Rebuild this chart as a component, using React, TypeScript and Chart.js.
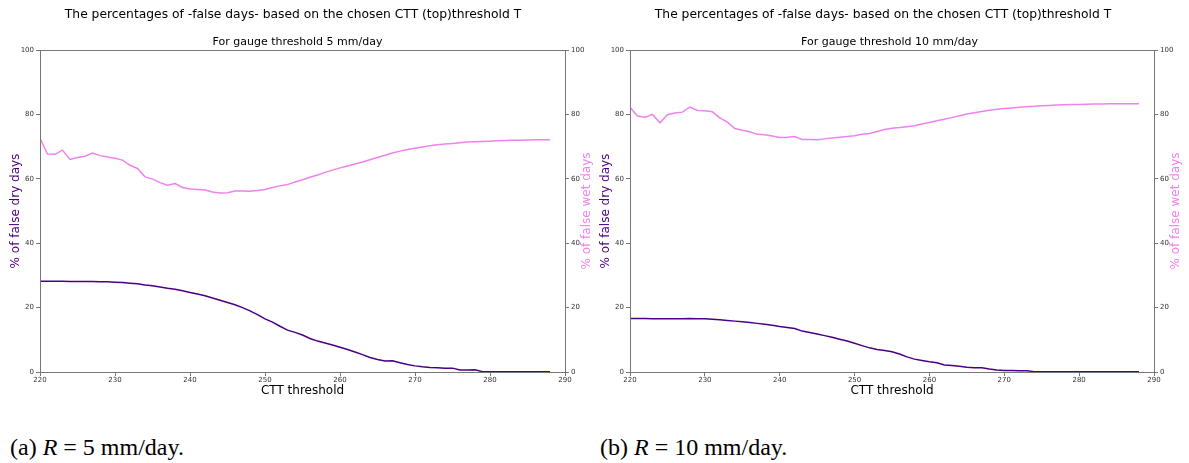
import React, { useEffect, useRef } from "react";
import { Chart, registerables } from "chart.js";

Chart.register(...registerables);

const CTT = [
  220, 221, 222, 223, 224, 225, 226, 227, 228, 229,
  230, 231, 232, 233, 234, 235, 236, 237, 238, 239,
  240, 241, 242, 243, 244, 245, 246, 247, 248, 249,
  250, 251, 252, 253, 254, 255, 256, 257, 258, 259,
  260, 261, 262, 263, 264, 265, 266, 267, 268, 269,
  270, 271, 272, 273, 274, 275, 276, 277, 278, 279,
  280, 281, 282, 283, 284, 285, 286, 287, 288,
];

const X_TICKS = [220, 230, 240, 250, 260, 270, 280, 290];
const Y_TICKS = [0, 20, 40, 60, 80, 100];

// R = 5 mm/day
const DRY_5 = [
  28.2, 28.2, 28.2, 28.2, 28.1, 28.1, 28.1, 28.1, 28.0, 28.0,
  27.9, 27.8, 27.6, 27.4, 27.0, 26.8, 26.4, 26.0, 25.7, 25.2,
  24.7, 24.2, 23.7, 23.0, 22.3, 21.6, 20.9, 20.0, 19.0, 17.8,
  16.5, 15.5, 14.2, 13.0, 12.3, 11.5, 10.4, 9.6, 9.0, 8.4,
  7.7, 7.0, 6.2, 5.4, 4.5, 3.9, 3.4, 3.5, 2.9, 2.3,
  1.9, 1.6, 1.4, 1.3, 1.2, 1.2, 0.6, 0.6, 0.7, 0.1,
  0.1, 0.1, 0.1, 0.1, 0.1, 0.1, 0.1, 0.1, 0.1,
];
const WET_5 = [
  72.6, 67.7, 67.6, 68.9, 66.0, 66.6, 67.0, 68.0, 67.2, 66.8,
  66.4, 65.8, 64.2, 63.2, 60.6, 59.9, 58.8, 58.0, 58.5, 57.3,
  56.8, 56.7, 56.5, 55.9, 55.6, 55.7, 56.2, 56.2, 56.1, 56.4,
  56.7, 57.3, 57.8, 58.2, 59.0, 59.7, 60.5, 61.2, 62.0, 62.7,
  63.4, 64.0, 64.6, 65.2, 65.9, 66.6, 67.3, 68.0, 68.6, 69.1,
  69.5, 69.9, 70.3, 70.6, 70.8, 71.0, 71.2, 71.4, 71.5, 71.6,
  71.7, 71.8, 71.9, 71.95, 72.0, 72.05, 72.1, 72.1, 72.1,
];

// R = 10 mm/day
const DRY_10 = [
  16.6, 16.6, 16.6, 16.5, 16.5, 16.5, 16.5, 16.5, 16.6, 16.5,
  16.5, 16.4, 16.2, 16.0, 15.8, 15.6, 15.4, 15.1, 14.8, 14.5,
  14.1, 13.8, 13.5, 12.7, 12.3, 11.8, 11.3, 10.8, 10.2, 9.6,
  8.9, 8.2, 7.5, 7.0, 6.7, 6.3, 5.6, 4.7, 4.0, 3.6,
  3.2, 2.9, 2.2, 2.0, 1.8, 1.5, 1.3, 1.3, 0.9, 0.6,
  0.5, 0.5, 0.4, 0.4, 0.1, 0.05, 0.05, 0.05, 0.05, 0.05,
  0.05, 0.05, 0.05, 0.05, 0.05, 0.05, 0.05, 0.05, 0.05,
];
const WET_10 = [
  82.2, 79.5, 79.1, 80.0, 77.4, 79.9, 80.4, 80.7, 82.3, 81.2,
  81.1, 80.8, 78.9, 77.6, 75.6, 75.1, 74.6, 73.8, 73.7, 73.3,
  72.8, 72.9, 73.1, 72.2, 72.2, 72.1, 72.4, 72.7, 72.9, 73.1,
  73.4, 73.8, 74.1, 74.7, 75.3, 75.7, 75.9, 76.2, 76.5, 77.0,
  77.5, 78.0, 78.5, 79.0, 79.6, 80.1, 80.5, 80.9, 81.3, 81.6,
  81.8, 82.0, 82.2, 82.4, 82.5, 82.7, 82.8, 82.9, 83.0, 83.05,
  83.1, 83.15, 83.2, 83.25, 83.3, 83.3, 83.3, 83.3, 83.3,
];

const SUPTITLE = "The percentages of -false days- based on the chosen CTT (top)threshold T";
const DRY_COLOR = "#4B0082";
const WET_COLOR = "#EE82EE";
const AXIS_COLOR = "#777777";
const FONT = "'DejaVu Sans', sans-serif";

type PanelProps = {
  subtitle: string;
  dry: number[];
  wet: number[];
  width: number;
  rightWidth: number;
};

const frame = {
  id: "frame",
  afterDraw(chart: any) {
    const { ctx, chartArea } = chart;
    ctx.save();
    ctx.strokeStyle = AXIS_COLOR;
    ctx.lineWidth = 1;
    ctx.strokeRect(
      Math.round(chartArea.left) + 0.5,
      Math.round(chartArea.top) + 0.5,
      Math.round(chartArea.right - chartArea.left),
      Math.round(chartArea.bottom - chartArea.top)
    );
    const s = chart.scales.y1;
    ctx.fillStyle = WET_COLOR;
    ctx.font = `12px ${FONT}`;
    ctx.textAlign = "center";
    ctx.textBaseline = "middle";
    ctx.translate(s.left + 22, (chartArea.top + chartArea.bottom) / 2);
    ctx.rotate(-Math.PI / 2);
    ctx.fillText("% of false wet days", 0, 0);
    ctx.restore();
  },
};

function Panel({ subtitle, dry, wet, width, rightWidth }: PanelProps) {
  const ref = useRef<HTMLCanvasElement>(null);
  useEffect(() => {
    if (!ref.current) return;
    const tickFont = { family: FONT, size: 7 };
    const yAxis = (pos: "left" | "right", w: number) => ({
      type: "linear" as const,
      position: pos,
      min: 0,
      max: 100,
      afterBuildTicks: (s: any) => {
        s.ticks = Y_TICKS.map((v) => ({ value: v }));
      },
      ticks: { font: tickFont, color: "#333", padding: 2 },
      grid: { drawOnChartArea: false, tickLength: 4, color: AXIS_COLOR },
      border: { color: AXIS_COLOR },
      afterFit: (s: any) => {
        s.width = w;
      },
    });
    const chart = new Chart(ref.current, {
      type: "line",
      data: {
        datasets: [
          {
            label: "dry",
            data: CTT.map((x, i) => ({ x, y: dry[i] })),
            borderColor: DRY_COLOR,
            borderWidth: 1.5,
            pointRadius: 0,
            tension: 0,
            yAxisID: "y",
          },
          {
            label: "wet",
            data: CTT.map((x, i) => ({ x, y: wet[i] })),
            borderColor: WET_COLOR,
            borderWidth: 1.5,
            pointRadius: 0,
            tension: 0,
            yAxisID: "y1",
          },
        ],
      },
      options: {
        responsive: false,
        animation: false,
        devicePixelRatio: 1,
        layout: { padding: 0 },
        plugins: {
          legend: { display: false },
          tooltip: { enabled: false },
          title: {
            display: true,
            text: subtitle,
            color: "#000",
            font: { family: FONT, size: 11, weight: "normal" },
            padding: { top: 35.4, bottom: 1.4 },
          },
        },
        scales: {
          x: {
            type: "linear",
            min: 220,
            max: 290,
            afterBuildTicks: (s: any) => {
              s.ticks = X_TICKS.map((v) => ({ value: v }));
            },
            ticks: { font: tickFont, color: "#333", padding: 0, maxRotation: 0 },
            grid: { drawOnChartArea: false, tickLength: 4, color: AXIS_COLOR },
            border: { color: AXIS_COLOR },
            title: {
              display: true,
              text: "CTT threshold",
              color: "#000",
              font: { family: FONT, size: 12 },
              padding: { top: 0, bottom: 2 },
            },
            afterFit: (s: any) => {
              s.height = 28;
            },
          },
          y: {
            ...yAxis("left", 40),
            title: {
              display: true,
              text: "% of false dry days",
              color: DRY_COLOR,
              font: { family: FONT, size: 12 },
              padding: { top: 9, bottom: 0 },
            },
          },
          y1: yAxis("right", rightWidth),
        },
      },
      plugins: [frame],
    });
    return () => chart.destroy();
  }, []);
  return <canvas ref={ref} width={width} height={400} style={{ display: "block" }} />;
}

const capStyle: React.CSSProperties = {
  position: "absolute",
  top: 432,
  fontFamily: "'Liberation Serif', serif",
  fontSize: 24,
  lineHeight: "30px",
  color: "#000",
  whiteSpace: "nowrap",
};

const supStyle: React.CSSProperties = {
  position: "absolute",
  top: 6,
  fontFamily: FONT,
  fontSize: 12.3,
  lineHeight: "16px",
  color: "#000",
  whiteSpace: "nowrap",
  transform: "translateX(-50%)",
};

export default function App() {
  return (
    <div
      style={{
        position: "absolute",
        left: 0,
        top: 0,
        width: 1189,
        height: 463,
        background: "#fff",
        overflow: "hidden",
      }}
    >
      <div style={{ position: "absolute", left: 0, top: 0 }}>
        <Panel subtitle="For gauge threshold 5 mm/day" dry={DRY_5} wet={WET_5} width={595} rightWidth={30} />
      </div>
      <div style={{ position: "absolute", left: 590, top: 0 }}>
        <Panel subtitle="For gauge threshold 10 mm/day" dry={DRY_10} wet={WET_10} width={599} rightWidth={35} />
      </div>
      <div style={{ ...supStyle, left: 293 }}>{SUPTITLE}</div>
      <div style={{ ...supStyle, left: 883 }}>{SUPTITLE}</div>
      <div style={{ ...capStyle, left: 10 }}>
        (a) <i>R</i> = 5 mm/day.
      </div>
      <div style={{ ...capStyle, left: 600 }}>
        (b) <i>R</i> = 10 mm/day.
      </div>
    </div>
  );
}
